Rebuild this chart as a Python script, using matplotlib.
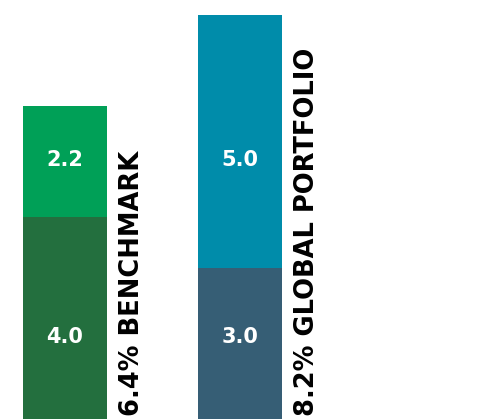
import matplotlib
matplotlib.use("Agg")
import matplotlib.pyplot as plt
import numpy as np

# data
categories = ["BENCHMARK", "GLOBAL PORTFOLIO"]
bottom_vals = [4.0, 3.0]
top_vals = [2.2, 5.0]
totals = [6.4, 8.2]

bottom_colors = ["#236f3e", "#365e75"]
top_colors = ["#00a057", "#008caa"]

fig = plt.figure(figsize=(5.04, 4.19), dpi=100)
ax = fig.add_axes([0, 0, 1, 1])

x = np.arange(len(categories))
w = 0.48
ax.bar(x, bottom_vals, width=w, color=bottom_colors, linewidth=0)
ax.bar(x, top_vals, width=w, bottom=bottom_vals, color=top_colors, linewidth=0)

ax.set_xlim(-65 / 175, 439 / 175)
ax.set_ylim(0, 8.3)
ax.axis("off")

trans = ax.get_xaxis_transform()
for i in range(len(categories)):
    ax.text(x[i], 0.196, f"{bottom_vals[i]:.1f}", transform=trans, ha="center", va="center",
            color="white", fontsize=15, fontweight="bold")
    ax.text(x[i], 0.618, f"{top_vals[i]:.1f}", transform=trans, ha="center", va="center",
            color="white", fontsize=15, fontweight="bold")
    ax.text(x[i] + w / 2 + 25 / 175, 0.008, f"{totals[i]}% {categories[i]}", transform=trans,
            rotation=90, ha="center", va="bottom", color="black", fontsize=18.5, fontweight="bold")

fig.savefig("out.png", dpi=100)
